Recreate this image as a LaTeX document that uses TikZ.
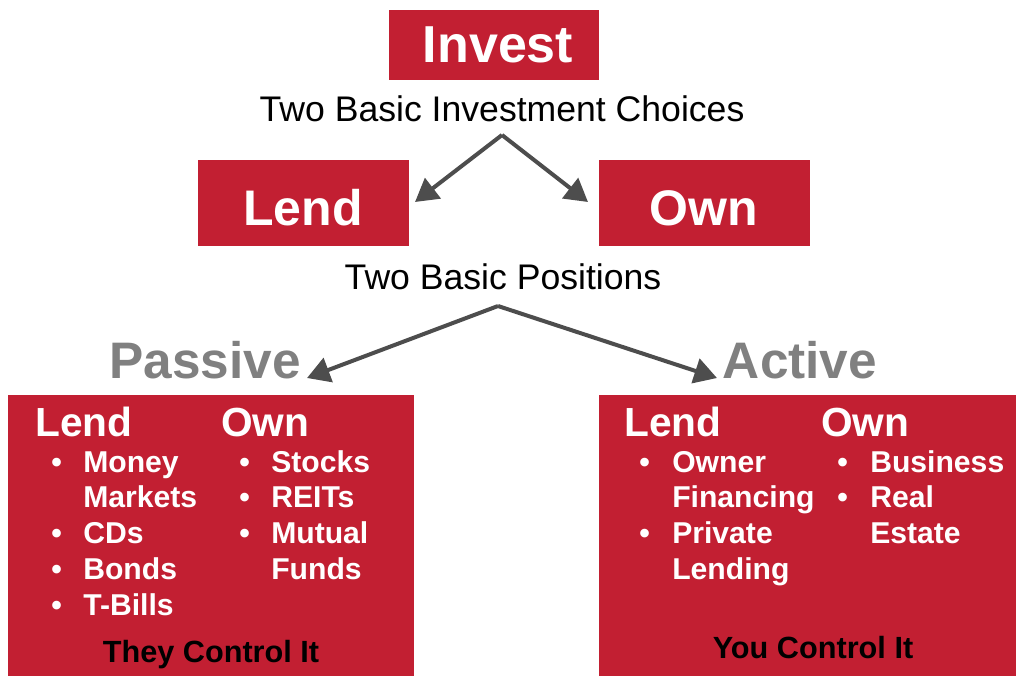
\documentclass[tikz,border=0pt]{standalone}
\usepackage{fontspec}
\setmainfont{Liberation Sans}
\usetikzlibrary{arrows.meta}
\definecolor{boxred}{HTML}{C21F32}
\definecolor{arrgray}{HTML}{4D4D4D}
\definecolor{labgray}{HTML}{808080}
\begin{document}
\begin{tikzpicture}[x=0.75pt,y=-0.75pt,
  redbox/.style={fill=boxred,draw=none},
  bigtxt/.style={text=white,font=\fontsize{39}{44}\selectfont\bfseries,inner sep=0pt},
  subtxt/.style={font=\fontsize{26.7}{30}\selectfont,inner sep=0pt},
  graytxt/.style={text=labgray,font=\fontsize{38.5}{44}\selectfont\bfseries,inner sep=0pt},
  headtxt/.style={text=white,font=\fontsize{30.5}{34}\selectfont\bfseries,inner sep=0pt,anchor=base west},
  itemtxt/.style={text=white,font=\fontsize{22.6}{27}\selectfont\bfseries,inner sep=0pt,anchor=base west},
  foottxt/.style={text=black,font=\fontsize{23}{27}\selectfont\bfseries,inner sep=0pt,anchor=base},
  conn/.style={draw=arrgray,line width=3pt,-{Triangle[length=17pt,width=19pt]}},
]
\useasboundingbox (0,0) rectangle (1016,676);
% top
\fill[redbox] (389,10) rectangle (599,80);
\node[bigtxt] (invest) at (498,45) {Invest};
\node[subtxt] (choices) at (502,109) {Two Basic Investment Choices};
\coordinate (apex1) at (502,135);
\fill[redbox] (198,160) rectangle (409,246);
\node[bigtxt,font=\fontsize{37.5}{42}\selectfont\bfseries] (lend) at (303,208) {Lend};
\fill[redbox] (599,160) rectangle (810,246);
\node[bigtxt,font=\fontsize{37.5}{42}\selectfont\bfseries] (own) at (704,208) {Own};
\coordinate (t1) at (415,202);
\coordinate (t2) at (588,202);
\draw[conn] (apex1) -- (t1);
\draw[conn] (apex1) -- (t2);
\node[subtxt] (positions) at (503,277) {Two Basic Positions};
\coordinate (apex2) at (498,306);
\coordinate (t3) at (307,378);
\coordinate (t4) at (717,378);
\draw[conn] (apex2) -- (t3);
\draw[conn] (apex2) -- (t4);
\node[graytxt] (passive) at (205,360) {Passive};
\node[graytxt] (active) at (800,360) {Active};
% left box
\fill[redbox] (8,395) rectangle (414,676);
\node[headtxt] (llend) at (35,436) {Lend};
\node[headtxt] (lown) at (221,436) {Own};
\foreach \y/\b/\t [count=\i] in {472/1/Money,507/0/Markets,543/1/CDs,579/1/Bonds,615/1/T-Bills}{
  \ifnum\b=1 \node[itemtxt] (lb\i) at (51,\y) {•};\fi
  \node[itemtxt] (li\i) at (83,\y) {\t};
}
\foreach \y/\b/\t [count=\i] in {472/1/Stocks,507/1/REITs,543/1/Mutual,579/0/Funds}{
  \ifnum\b=1 \node[itemtxt] (ob\i) at (239,\y) {•};\fi
  \node[itemtxt] (oi\i) at (271,\y) {\t};
}
\node[foottxt] (they) at (211,662) {They Control It};
% right box
\fill[redbox] (599,395) rectangle (1016,676);
\node[headtxt] (rlend) at (624,436) {Lend};
\node[headtxt] (rown) at (821,436) {Own};
\foreach \y/\b/\t [count=\i] in {472/1/Owner,507/0/Financing,543/1/Private,579/0/Lending}{
  \ifnum\b=1 \node[itemtxt] (rb\i) at (639,\y) {•};\fi
  \node[itemtxt] (ri\i) at (672,\y) {\t};
}
\foreach \y/\b/\t [count=\i] in {472/1/Business,507/1/Real,543/0/Estate}{
  \ifnum\b=1 \node[itemtxt] (sb\i) at (837,\y) {•};\fi
  \node[itemtxt] (si\i) at (870,\y) {\t};
}
\node[foottxt] (you) at (813,658) {You Control It};
\end{tikzpicture}
\end{document}
